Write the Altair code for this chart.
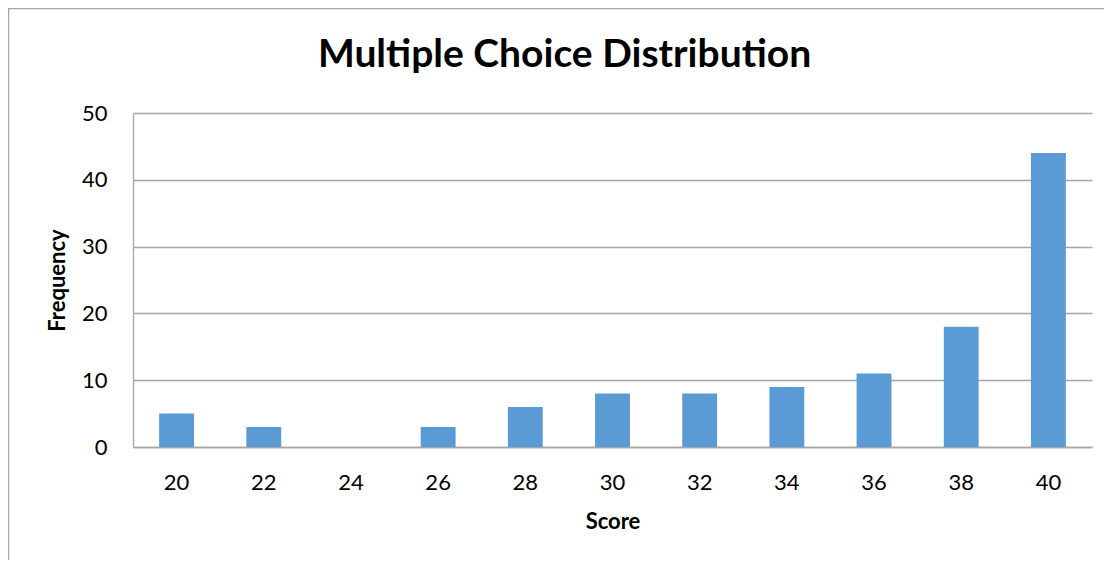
import altair as alt
import pandas as pd

scores = ["20", "22", "24", "26", "28", "30", "32", "34", "36", "38", "40"]
frequency = [5, 3, 0, 3, 6, 8, 8, 9, 11, 18, 44]

df = pd.DataFrame({"Score": scores, "Frequency": frequency})

FONT = "Lato"
GRID = "#A6A6A6"

bars = alt.Chart(df).mark_bar(color="#5B9BD5").encode(
    x=alt.X(
        "Score:O",
        sort=scores,
        scale=alt.Scale(paddingInner=0.6, paddingOuter=0.3),
        axis=alt.Axis(
            title="Score",
            labelAngle=0,
            labelFont=FONT,
            labelFontSize=22,
            labelColor="#000000",
            labelPadding=25,
            ticks=False,
            domainColor=GRID,
            domainWidth=1.3,
            titleFont=FONT,
            titleFontSize=22,
            titleFontWeight="bold",
            titleColor="#000000",
            titlePadding=18,
        ),
    ),
    y=alt.Y(
        "Frequency:Q",
        scale=alt.Scale(domain=[0, 50]),
        axis=alt.Axis(
            title="Frequency",
            values=[0, 10, 20, 30, 40, 50],
            labelFont=FONT,
            labelFontSize=22,
            labelColor="#000000",
            labelPadding=26,
            ticks=False,
            domainColor=GRID,
            domainWidth=1.3,
            gridColor=GRID,
            gridWidth=1.3,
            titleFont=FONT,
            titleFontSize=22,
            titleFontWeight="bold",
            titleColor="#000000",
            titlePadding=12,
        ),
    ),
)

border = alt.Chart(pd.DataFrame({"a": [0]})).mark_rect(
    fill=None, stroke="#A6A6A6", strokeWidth=1.5, clip=False
).encode(
    x=alt.value(-124.5),
    x2=alt.value(1100),
    y=alt.value(-104.5),
    y2=alt.value(600),
)

chart = alt.layer(border, bars).properties(
    width=959,
    height=334,
    padding={"left": 125, "top": 105, "right": 12, "bottom": 113},
    autosize=alt.AutoSizeParams(type="none"),
    title=alt.TitleParams(
        "Multiple Choice Distribution",
        font=FONT,
        fontSize=39,
        fontWeight="bold",
        color="#000000",
        anchor="middle",
        baseline="alphabetic",
        dx=-48,
        dy=98,
        offset=0,
    ),
).configure_view(stroke=None).configure_axisX(grid=False)

chart.save("out.html", embed_options={"renderer": "svg", "actions": False})
